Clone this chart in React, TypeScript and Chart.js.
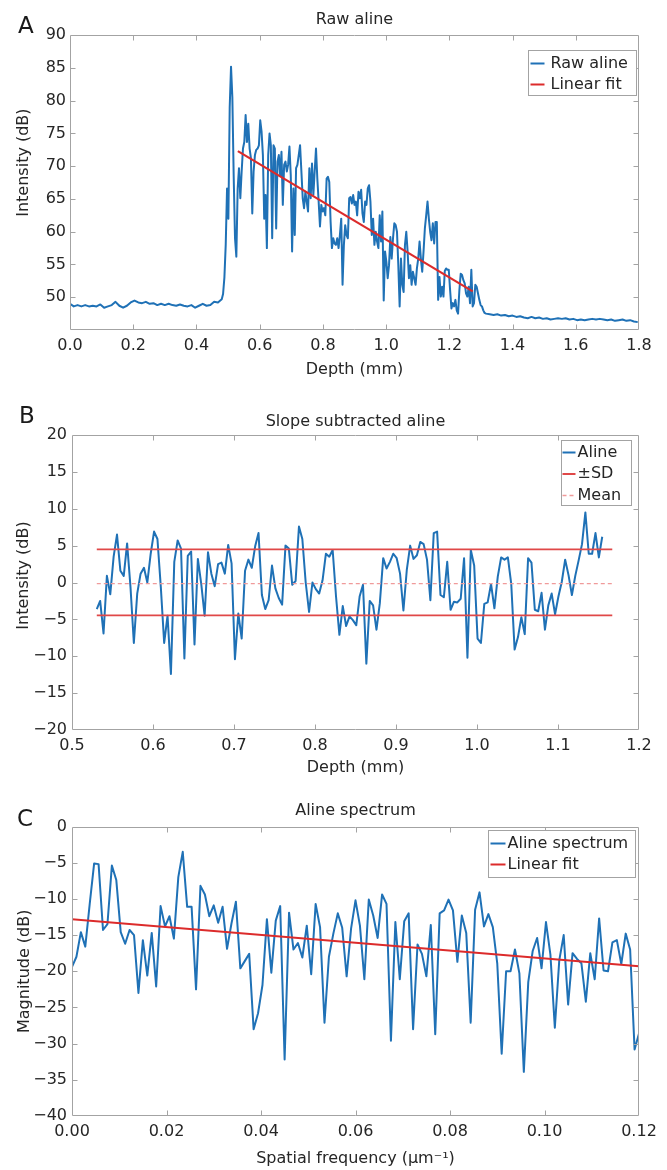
import React, { useEffect, useRef } from 'react';
import { Chart, registerables } from 'chart.js';

Chart.register(...registerables);

const FONT = '"DejaVu Sans", "Liberation Sans", sans-serif';
const TEXT_COLOR = '#262626';
const AXIS_COLOR = '#a3a3a3';
const BLUE = '#1f71b6';
const RED = '#dc2b2b';
const SD_RED = '#e04848';
const MEAN_PINK = '#f09a9a';

// ---------- Panel A : Raw aline ----------
const rawBaselineStart = 0;
const rawBaselineStep = 0.012;
const rawBaseline = [
  49.0, 48.6, 48.8, 48.6, 48.8, 48.6, 48.7, 48.6, 48.9, 48.4,
  48.6, 48.8, 49.3, 48.7, 48.4, 48.7, 49.2, 49.5, 49.2, 49.1,
  49.3, 49.0, 49.1, 48.8, 49.0, 48.8, 49.0, 48.8, 48.7, 48.9,
  48.7, 48.6, 48.8, 48.4, 48.7, 49.0, 48.7, 48.8, 49.3, 49.2,
];
const rawPeakStart = 0.48;
const rawPeakStep = 0.0042;
const rawPeak = [
  49.7, 50.5, 53.0, 58.0, 66.6, 62.0, 79.0, 85.2, 80.5, 68.5, 59.0, 56.2,
  66.6, 69.7, 65.1, 69.2, 72.7, 73.7, 77.8, 73.7, 76.5, 72.7,
  71.2, 62.8, 69.2, 71.7, 72.5, 72.7, 73.2, 77.0, 75.3, 71.7,
  62.0, 65.6, 57.5, 71.7, 75.0, 73.2, 59.0, 73.2, 72.7, 60.5,
  70.7, 71.7, 68.6, 72.2, 64.1, 70.2, 70.7, 69.2, 70.2, 73.0,
  68.6, 57.0, 66.6, 59.5, 69.7, 70.2, 71.7, 73.2, 69.2, 65.1,
  63.6, 66.1, 64.6, 63.1, 69.7, 65.1, 70.4, 65.6, 69.2, 72.7,
  68.1, 64.6, 60.8, 64.1, 63.1, 63.6, 62.5, 68.1, 68.4, 67.6,
  61.5, 57.5, 59.0, 58.2, 58.0, 59.0, 57.5, 59.5, 62.0, 51.9,
  58.0, 61.0, 59.5, 59.0, 65.1, 65.3, 64.3, 65.6, 64.1, 64.6,
  62.5, 66.1, 65.1, 66.4, 62.8, 61.5, 64.6, 64.1, 66.6, 67.1,
  64.6, 59.5, 62.0, 58.0, 60.0, 58.5, 57.5, 62.5, 58.5, 63.1,
  49.5, 57.0, 55.4, 52.9, 54.9, 59.2, 55.9, 59.0, 61.3, 61.0,
  60.0, 54.9, 48.6, 55.9, 51.9, 50.8, 58.0, 60.0, 57.0, 52.9,
  54.9, 51.9, 53.9, 52.9, 51.9, 54.4, 55.9, 58.5, 55.9, 53.9,
  57.0, 60.5, 62.5, 64.6, 62.0,
  60.0, 58.7, 61.3, 58.2, 61.5, 61.5, 49.6, 53.1, 50.1, 51.6,
  50.1, 54.0, 54.4, 54.2, 54.2, 51.1, 48.3, 49.1, 48.6, 49.6,
  48.0, 47.5, 51.1, 53.6, 53.4, 52.6, 52.1, 50.6, 50.1, 51.6,
  49.1, 54.2, 48.6, 49.1, 51.9, 51.6, 50.6, 49.6, 48.8, 48.6,
  48.0, 47.6, 47.5,
];
const rawTailStart = 1.328;
const rawTailStep = 0.012;
const rawTail = [
  47.4, 47.3, 47.4, 47.2, 47.3, 47.1, 47.2, 47.0, 47.1, 46.9,
  46.8, 47.0, 46.8, 46.9, 46.7, 46.8, 46.6, 46.7, 46.8, 46.7,
  46.8, 46.6, 46.7, 46.5, 46.6, 46.5, 46.6, 46.7, 46.6, 46.7,
  46.6, 46.5, 46.6, 46.4, 46.5, 46.6, 46.4, 46.5, 46.3, 46.2,
];
const fitADepth = [0.531, 1.274];
const fitAIntensity = [72.3, 50.9];
const depthTicksA = [0, 0.2, 0.4, 0.6, 0.8, 1.0, 1.2, 1.4, 1.6, 1.8];
const intensityTicksA = [50, 55, 60, 65, 70, 75, 80, 85, 90];

// ---------- Panel B : Slope subtracted aline ----------
const slopeStart = 0.5306;
const slopeStep = 0.00416;
const slopeValues = [
  -3.6, -2.5, -6.9, 0.9, -1.6, 3.5, 6.5, 1.6, 0.9, 5.3,
  -0.6, -8.2, -1.5, 1.2, 2.0, 0.0, 3.9, 6.9, 5.9, -0.6,
  -8.2, -4.5, -12.4, 2.8, 5.7, 4.6, -10.3, 3.6, 4.2, -8.4,
  3.2, -0.2, -4.5, 4.1, 1.2, -0.5, 2.5, 2.7, 1.2, 5.1,
  2.6, -10.4, -4.2, -7.6, 1.6, 3.1, 2.0, 4.9, 6.7, -1.7,
  -3.6, -2.4, 2.3, -0.8, -2.1, -3.0, 5.0, 4.6, -0.3, 0.2,
  7.6, 5.9, 0.0, -4.0, 0.0, -0.9, -1.5, 0.3, 3.9, 3.5,
  4.4, -1.9, -7.1, -3.2, -5.9, -4.6, -5.1, -5.8, -1.9, -0.3,
  -11.0, -2.5, -3.1, -6.4, -2.8, 3.3, 1.9, 2.8, 3.9, 3.3,
  1.2, -3.8, 1.7, 5.0, 3.2, 3.7, 5.5, 5.2, 3.1, -2.4,
  6.7, 6.9, -1.7, -2.0, 2.8, -3.7, -2.6, -2.7, -2.2, 3.3,
  -10.2, 4.4, 2.3, -7.6, -8.2, -2.9, -2.7, -0.2, -3.5, 0.8,
  3.4, 3.1, 3.4, -0.2, -9.1, -7.4, -4.7, -7.0, 3.3, 2.7,
  -3.7, -3.9, -1.4, -6.4, -3.1, -1.5, -4.3, -1.9, 0.1, 3.1,
  1.0, -1.7, 0.9, 3.0, 5.2, 9.5, 3.9, 3.9, 6.7, 3.4,
  6.2,
];
const bandDepth = [0.5306, 1.167];
const sdUpper = 4.5;
const sdLower = -4.45;
const meanLevel = -0.15;
const depthTicksB = [0.5, 0.6, 0.7, 0.8, 0.9, 1.0, 1.1, 1.2];
const intensityTicksB = [-20, -15, -10, -5, 0, 5, 10, 15, 20];

// ---------- Panel C : Aline spectrum ----------
const freqStart = 0;
const freqStep = 0.0009375;
const spectrumValues = [
  -19.4, -18.0, -14.6, -16.6, -10.7, -5.1, -5.2, -14.3, -13.5, -5.4,
  -7.4, -14.6, -16.2, -14.3, -15.0, -23.0, -15.7, -20.6, -14.7, -22.1,
  -11.0, -13.8, -12.4, -15.5, -7.0, -3.5, -11.1, -11.1, -22.5, -8.2,
  -9.4, -12.4, -10.9, -13.3, -11.1, -16.9, -13.4, -10.4, -19.6, -18.6,
  -17.6, -28.0, -25.8, -21.9, -12.8, -20.2, -13.0, -11.0, -32.2, -11.9,
  -17.0, -16.1, -18.1, -13.7, -20.4, -10.7, -13.9, -27.1, -18.0, -14.8,
  -12.0, -14.0, -20.7, -14.1, -10.2, -13.7, -21.1, -10.1, -12.3, -15.4,
  -9.4, -10.7, -29.6, -13.2, -21.1, -13.1, -12.0, -28.0, -16.3, -17.6,
  -20.7, -13.6, -28.7, -12.0, -11.6, -10.1, -11.6, -18.7, -12.3, -14.7,
  -27.1, -11.5, -9.1, -13.8, -12.1, -13.9, -18.9, -31.4, -20.0, -20.0,
  -17.0, -20.3, -33.9, -21.5, -17.2, -15.4, -19.6, -13.2, -17.7, -27.8,
  -18.5, -15.0, -24.6, -17.5, -18.3, -18.9, -24.2, -17.5, -21.1, -12.7,
  -19.9, -20.0, -16.0, -15.7, -19.0, -14.8, -17.0, -30.8, -28.6,
];
const fitCFreq = [0, 0.12];
const fitCMag = [-12.8, -19.3];
const freqTicksC = [0, 0.02, 0.04, 0.06, 0.08, 0.1, 0.12];
const magTicksC = [-40, -35, -30, -25, -20, -15, -10, -5, 0];

// ---------- helpers ----------
const seq = (start: number, step: number, values: number[]) =>
  values.map((y, i) => ({ x: start + i * step, y }));
const pairs = (xs: number[], ys: number[]) => xs.map((x, i) => ({ x, y: ys[i] }));
const minus = (s: string) => s.replace('-', '\u2212');

const matlabBox = {
  id: 'matlabBox',
  afterDatasetsDraw(chart: any, _args: any, opts: any) {
    const { ctx, chartArea: a, scales } = chart;
    const left = Math.round(a.left) + 0.5;
    const right = Math.round(a.right) - 0.5;
    const top = Math.round(a.top) + 0.5;
    const bottom = Math.round(a.bottom) - 0.5;
    ctx.save();
    ctx.setLineDash([]);
    ctx.strokeStyle = AXIS_COLOR;
    ctx.lineWidth = 1;
    ctx.beginPath();
    ctx.rect(left, top, right - left, bottom - top);
    const tl = 5;
    scales.x.ticks.forEach((t: any) => {
      const px = Math.round(scales.x.getPixelForValue(t.value)) + 0.5;
      if (px - left < 2 || right - px < 2) return;
      ctx.moveTo(px, bottom); ctx.lineTo(px, bottom - tl);
      ctx.moveTo(px, top); ctx.lineTo(px, top + tl);
    });
    scales.y.ticks.forEach((t: any) => {
      const py = Math.round(scales.y.getPixelForValue(t.value)) + 0.5;
      if (py - top < 2 || bottom - py < 2) return;
      ctx.moveTo(left, py); ctx.lineTo(left + tl, py);
      ctx.moveTo(right, py); ctx.lineTo(right - tl, py);
    });
    ctx.stroke();

    // y axis title
    const yt = opts.yTitle;
    ctx.save();
    ctx.translate(yt.x, (a.top + a.bottom) / 2 + yt.shift);
    ctx.rotate(-Math.PI / 2);
    ctx.fillStyle = TEXT_COLOR;
    ctx.font = `16px ${FONT}`;
    ctx.textAlign = 'center';
    ctx.textBaseline = 'middle';
    ctx.fillText(yt.text, 0, 0);
    ctx.restore();

    // legend
    const L = opts.legend;
    const bx = Math.round(a.right - L.right - L.w) + 0.5;
    const by = Math.round(a.top + L.top) + 0.5;
    ctx.fillStyle = '#ffffff';
    ctx.fillRect(bx, by, L.w, L.h);
    ctx.strokeStyle = AXIS_COLOR;
    ctx.lineWidth = 1;
    ctx.strokeRect(bx, by, L.w, L.h);
    ctx.font = `16px ${FONT}`;
    ctx.textAlign = 'left';
    ctx.textBaseline = 'middle';
    L.items.forEach((di: number, i: number) => {
      const ds = chart.data.datasets[di];
      const y = by + L.rowY[i];
      ctx.save();
      ctx.strokeStyle = ds.borderColor;
      ctx.lineWidth = ds.borderDash ? 1.3 : 2;
      ctx.setLineDash(ds.borderDash || []);
      ctx.beginPath();
      ctx.moveTo(bx + L.sx0, y);
      ctx.lineTo(bx + L.sx1, y);
      ctx.stroke();
      ctx.restore();
      ctx.fillStyle = TEXT_COLOR;
      ctx.fillText(ds.label, bx + L.tx, y);
    });
    ctx.restore();
  },
};

function makeConfig(p: any) {
  const tickFont = { family: FONT, size: 16 };
  return {
    type: 'line',
    data: { datasets: p.datasets },
    options: {
      animation: false,
      responsive: false,
      maintainAspectRatio: false,
      events: [],
      layout: { padding: { left: 0, right: 28, top: 0, bottom: 0 } },
      elements: { point: { radius: 0 }, line: { tension: 0, borderJoinStyle: 'round' } },
      plugins: {
        legend: { display: false },
        tooltip: { enabled: false },
        title: {
          display: true,
          text: p.title,
          fullSize: false,
          color: TEXT_COLOR,
          font: { family: FONT, size: 16, weight: 'normal' },
          padding: p.titlePad,
        },
        matlabBox: { legend: p.legend, yTitle: p.yTitle },
      },
      scales: {
        x: {
          type: 'linear',
          min: p.xMin,
          max: p.xMax,
          afterBuildTicks: (s: any) => { s.ticks = p.xTicks.map((v: number) => ({ value: v })); },
          afterFit: (s: any) => { s.height = p.xAxisH; s.paddingLeft = 0; s.paddingRight = 0; },
          ticks: {
            autoSkip: false,
            maxRotation: 0,
            padding: 6,
            color: TEXT_COLOR,
            font: tickFont,
            callback: (v: any) => minus(Number(v).toFixed(p.xDec)),
          },
          grid: { display: false, drawTicks: false },
          border: { display: false },
          title: {
            display: true,
            text: p.xTitle,
            color: TEXT_COLOR,
            font: { family: FONT, size: 16 },
            padding: { top: 0, bottom: p.xTitlePadB },
          },
        },
        y: {
          type: 'linear',
          min: p.yMin,
          max: p.yMax,
          afterBuildTicks: (s: any) => { s.ticks = p.yTicks.map((v: number) => ({ value: v })); },
          afterFit: (s: any) => { s.width = p.yAxisW; s.paddingTop = 0; s.paddingBottom = 0; },
          ticks: {
            padding: p.yTickPad,
            color: TEXT_COLOR,
            font: tickFont,
            callback: (v: any) => minus(String(v)),
          },
          grid: { display: false, drawTicks: false },
          border: { display: false },
          title: { display: false },
        },
      },
    },
    plugins: [matlabBox],
  };
}

const panelA = {
  title: 'Raw aline',
  titlePad: { top: 10, bottom: 6 },
  datasets: [
    {
      label: 'Raw aline',
      data: [
        ...seq(rawBaselineStart, rawBaselineStep, rawBaseline),
        ...seq(rawPeakStart, rawPeakStep, rawPeak),
        ...seq(rawTailStart, rawTailStep, rawTail),
      ],
      borderColor: BLUE,
      borderWidth: 2,
      pointRadius: 0,
      order: 2,
    },
    {
      label: 'Linear fit',
      data: pairs(fitADepth, fitAIntensity),
      borderColor: RED,
      borderWidth: 2.2,
      pointRadius: 0,
      order: 1,
    },
  ],
  xMin: 0, xMax: 1.8, xTicks: depthTicksA, xDec: 1,
  yMin: 45, yMax: 90, yTicks: intensityTicksA,
  xAxisH: 60, xTitle: 'Depth (mm)', xTitlePadB: 11,
  yAxisW: 70, yTickPad: 4,
  yTitle: { text: 'Intensity (dB)', x: 24, shift: -20 },
  legend: { items: [0, 1], right: 3, top: 15, w: 108, h: 45, rowY: [13, 34], sx0: 2, sx1: 16, tx: 22 },
};

const panelB = {
  title: 'Slope subtracted aline',
  titlePad: { top: 22, bottom: 3.8 },
  datasets: [
    {
      label: 'Aline',
      data: seq(slopeStart, slopeStep, slopeValues),
      borderColor: BLUE,
      borderWidth: 2,
      pointRadius: 0,
      order: 3,
    },
    {
      label: '\u00b1SD',
      data: pairs(bandDepth, [sdUpper, sdUpper]),
      borderColor: SD_RED,
      borderWidth: 1.8,
      pointRadius: 0,
      order: 1,
    },
    {
      label: '\u00b1SD lower',
      data: pairs(bandDepth, [sdLower, sdLower]),
      borderColor: SD_RED,
      borderWidth: 1.8,
      pointRadius: 0,
      order: 1,
    },
    {
      label: 'Mean',
      data: pairs(bandDepth, [meanLevel, meanLevel]),
      borderColor: MEAN_PINK,
      borderWidth: 1.3,
      borderDash: [4, 3],
      pointRadius: 0,
      order: 2,
    },
  ],
  xMin: 0.5, xMax: 1.2, xTicks: depthTicksB, xDec: 1,
  yMin: -20, yMax: 20, yTicks: intensityTicksB,
  xAxisH: 60, xTitle: 'Depth (mm)', xTitlePadB: 12.4,
  yAxisW: 72, yTickPad: 5,
  yTitle: { text: 'Intensity (dB)', x: 24, shift: -7 },
  legend: { items: [0, 1, 3], right: 8, top: 5, w: 70, h: 65, rowY: [12, 33.5, 55], sx0: 1, sx1: 14, tx: 16 },
};

const panelC = {
  title: 'Aline spectrum',
  titlePad: { top: 11.4, bottom: 5.9 },
  datasets: [
    {
      label: 'Aline spectrum',
      data: seq(freqStart, freqStep, spectrumValues),
      borderColor: BLUE,
      borderWidth: 2,
      pointRadius: 0,
      order: 2,
    },
    {
      label: 'Linear fit',
      data: pairs(fitCFreq, fitCMag),
      borderColor: RED,
      borderWidth: 2,
      pointRadius: 0,
      order: 1,
    },
  ],
  xMin: 0, xMax: 0.12, xTicks: freqTicksC, xDec: 2,
  yMin: -40, yMax: 0, yTicks: magTicksC,
  xAxisH: 54, xTitle: 'Spatial frequency (\u03bcm\u207b\u00b9)', xTitlePadB: 1.4,
  yAxisW: 72, yTickPad: 5,
  yTitle: { text: 'Magnitude (dB)', x: 25, shift: 0 },
  legend: { items: [0, 1], right: 4, top: 3.5, w: 147, h: 47, rowY: [13, 34], sx0: 2, sx1: 17, tx: 19 },
};

function Panel({ spec, top, height }: { spec: any; top: number; height: number }) {
  const ref = useRef<HTMLCanvasElement>(null);
  useEffect(() => {
    if (!ref.current) return;
    const chart = new Chart(ref.current, makeConfig(spec) as any);
    return () => chart.destroy();
  }, [spec]);
  return (
    <canvas
      ref={ref}
      width={667}
      height={height}
      style={{ position: 'absolute', left: 0, top, width: 667, height, display: 'block' }}
    />
  );
}

const letterStyle = (left: number, top: number): React.CSSProperties => ({
  position: 'absolute',
  left,
  top,
  fontFamily: FONT,
  fontSize: 23,
  lineHeight: '23px',
  color: '#1a1a1a',
});

export default function App() {
  return (
    <div
      style={{
        position: 'absolute',
        left: 0,
        top: 0,
        width: 667,
        height: 1170,
        overflow: 'hidden',
        background: '#ffffff',
      }}
    >
      <Panel spec={panelA} top={0} height={390} />
      <Panel spec={panelB} top={390} height={400} />
      <Panel spec={panelC} top={790} height={380} />
      <div style={letterStyle(18, 14)}>A</div>
      <div style={letterStyle(19, 404)}>B</div>
      <div style={letterStyle(17, 807)}>C</div>
    </div>
  );
}
